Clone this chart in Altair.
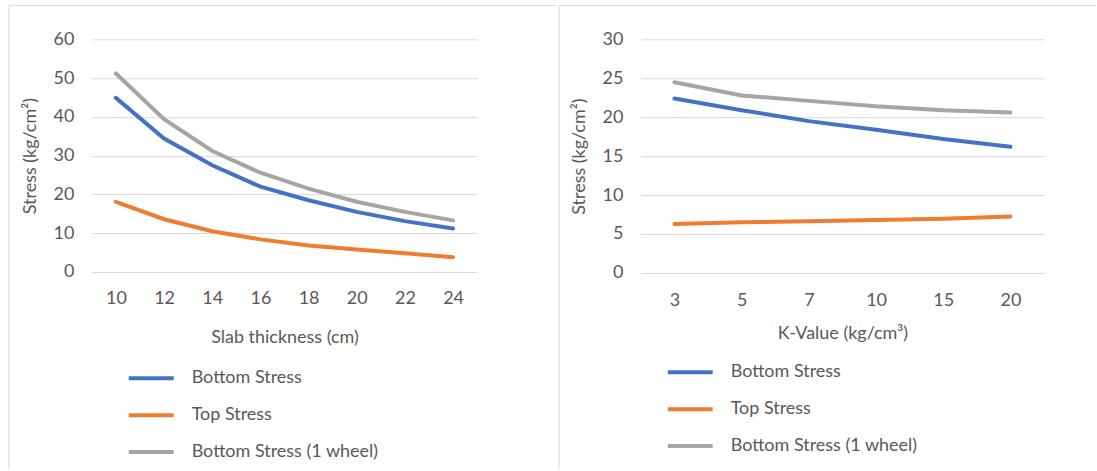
import altair as alt
import pandas as pd

# ---- data ----
series_names = ["Bottom Stress", "Top Stress", "Bottom Stress (1 wheel)"]
series_colors = ["#4472C4", "#ED7D31", "#A5A5A5"]

thickness = ["10", "12", "14", "16", "18", "20", "22", "24"]
thk_bottom = [44.9, 34.4, 27.5, 22.0, 18.5, 15.5, 13.1, 11.2]
thk_top = [18.1, 13.6, 10.5, 8.4, 6.8, 5.8, 4.8, 3.8]
thk_bottom_1w = [51.2, 39.4, 31.2, 25.6, 21.5, 18.1, 15.5, 13.3]

k_values = ["3", "5", "7", "10", "15", "20"]
k_bottom = [22.4, 20.9, 19.5, 18.4, 17.2, 16.2]
k_top = [6.3, 6.5, 6.65, 6.8, 6.95, 7.25]
k_bottom_1w = [24.5, 22.8, 22.1, 21.4, 20.9, 20.6]


def long_frame(cats, series):
    rows = []
    for name, vals in zip(series_names, series):
        for c, v in zip(cats, vals):
            rows.append({"x": c, "series": name, "stress": v})
    return pd.DataFrame(rows)


df_thk = long_frame(thickness, [thk_bottom, thk_top, thk_bottom_1w])
df_k = long_frame(k_values, [k_bottom, k_top, k_bottom_1w])

TEXT = "#595959"
FONT = "Lato"
BORDER = "#D9D9D9"


def frame(left_x, top_y, right_x, bottom_y):
    """Light panel border (Excel chart-area outline): a top edge and a left edge."""
    one = pd.DataFrame({"a": [0]})
    top = alt.Chart(one).mark_rule(color=BORDER, strokeWidth=1).encode(
        x=alt.value(left_x), x2=alt.value(right_x), y=alt.value(top_y))
    side = alt.Chart(one).mark_rule(color=BORDER, strokeWidth=1).encode(
        x=alt.value(left_x), y=alt.value(top_y), y2=alt.value(bottom_y))
    return top, side


def panel(df, cats, xtitle, ymax, ystep, width, height, lx, ly, label_pad, title_pad, border):
    legend = alt.Legend(
        title=None, orient="none", legendX=lx, legendY=ly, direction="vertical",
        symbolType="stroke", symbolSize=2025, symbolStrokeWidth=4,
        labelFontSize=18, labelColor=TEXT, labelFont=FONT, labelOffset=16,
        labelLimit=0, rowPadding=3, padding=0,
    )
    lines = alt.Chart(df).mark_line(strokeWidth=4, strokeCap="round").encode(
        x=alt.X("x:O", sort=cats, scale=alt.Scale(type="point", padding=0.5),
                axis=alt.Axis(title=xtitle, labelAngle=0, grid=False, domain=False,
                              ticks=False, labelPadding=label_pad, titlePadding=title_pad)),
        y=alt.Y("stress:Q", scale=alt.Scale(domain=[0, ymax], nice=False),
                axis=alt.Axis(title="Stress (kg/cm²)", values=list(range(0, ymax + 1, ystep)),
                              domain=False, ticks=False, labelPadding=18, titlePadding=14)),
        color=alt.Color("series:N", sort=series_names,
                        scale=alt.Scale(domain=series_names, range=series_colors),
                        legend=legend),
    ).properties(width=width, height=height)
    top, side = frame(*border)
    return alt.layer(top, side, lines)


left = panel(df_thk, thickness, "Slab thickness (cm)", 60, 10, 386, 233, 35, 315,
             18, 21, (-83, -34, 466, 431))
right = panel(df_k, k_values, "K-Value (kg/cm³)", 30, 5, 404, 234, 25, 309,
              19, 15, (-82, -34, 456, 431))

chart = alt.hconcat(left, right, spacing=0).resolve_scale(
    color="independent", x="independent", y="independent"
).configure_axis(
    labelFont=FONT, titleFont=FONT, labelColor=TEXT, titleColor=TEXT,
    labelFontSize=18, titleFontSize=18, titleFontWeight="normal",
    gridColor="#D9D9D9", gridWidth=1,
).configure_view(stroke=None).properties(
    padding={"left": 8, "top": 4, "right": 0, "bottom": 0},
    background="white",
)

chart.save("out.html", embed_options={"renderer": "svg", "actions": False})
